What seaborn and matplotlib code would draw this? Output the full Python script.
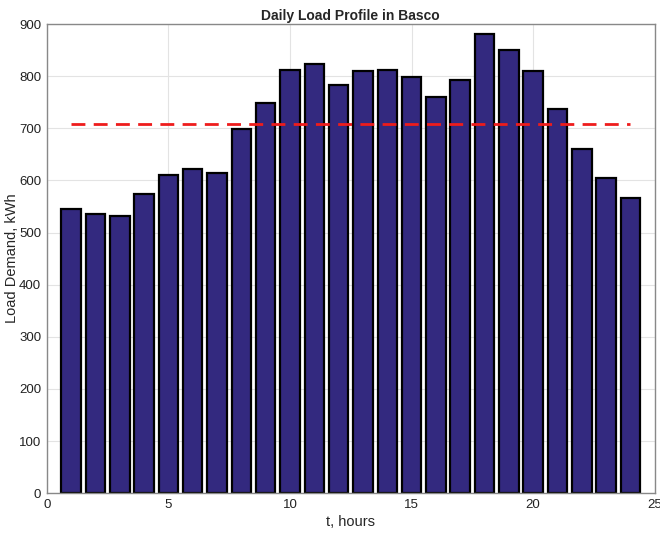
import matplotlib
matplotlib.use("Agg")
import matplotlib.pyplot as plt
import seaborn as sns
import numpy as np
import pandas as pd

hours = list(range(1, 25))
load = [545, 535, 532, 574, 610, 622, 614, 699, 749, 812, 823, 783,
        810, 812, 798, 760, 793, 881, 850, 810, 737, 660, 605, 566]
title = "Daily Load Profile in Basco"
xlabel = "t, hours"
ylabel = "Load Demand, kWh"
xticks = [0, 5, 10, 15, 20, 25]
yticks = [0, 100, 200, 300, 400, 500, 600, 700, 800, 900]

df = pd.DataFrame({"hour": hours, "load": load})
avg = float(np.mean(load))
df_avg = pd.DataFrame({"hour": hours, "avg": [avg] * len(hours)})

sns.set_style("white")
plt.rcParams['font.family'] = ['Liberation Sans', 'DejaVu Sans']

fig = plt.figure(figsize=(6.6, 5.36), dpi=100)
ax = fig.add_axes([0.071, 0.080, 0.921, 0.875])

sns.barplot(data=df, x="hour", y="load", native_scale=True, width=0.8,
            color="#33297f", saturation=1, edgecolor="black", linewidth=1.6,
            ax=ax, zorder=2)
sns.lineplot(data=df_avg, x="hour", y="avg", color="#ee1c1c", linewidth=2,
             ax=ax, zorder=3)
ax.lines[-1].set_dashes([5, 3])

ax.set_xlim(0, 25)
ax.set_ylim(0, 900)
ax.set_xticks(xticks)
ax.set_yticks(yticks)
ax.tick_params(axis="both", labelsize=9.5, colors="#222222", length=0, pad=4)
ax.grid(True, color="#e3e3e3", linewidth=0.8, zorder=0)
ax.set_axisbelow(True)
for s in ax.spines.values():
    s.set_color("#888888")
    s.set_linewidth(1)
ax.set_title(title, fontsize=10, fontweight="bold", pad=3)
ax.set_xlabel(xlabel, fontsize=10.5, labelpad=3)
ax.set_ylabel(ylabel, fontsize=10.5)
ax.yaxis.set_label_coords(-0.046, 0.5)

fig.savefig("out.png", dpi=100)
